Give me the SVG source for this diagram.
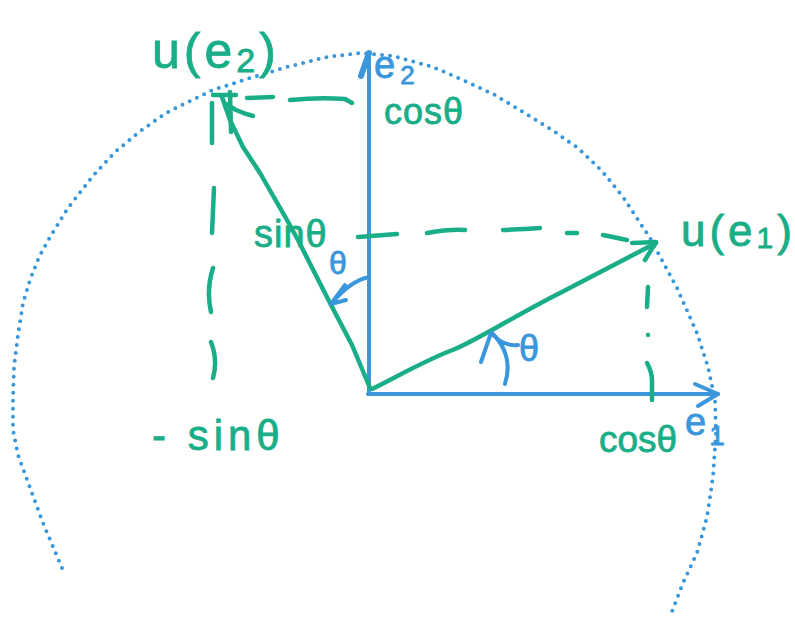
<svg xmlns="http://www.w3.org/2000/svg" width="795" height="619" viewBox="0 0 795 619">
<style>
.g{fill:none;stroke:#19ae87;stroke-width:4.5;stroke-linecap:round;stroke-linejoin:round}
.b{fill:none;stroke:#3a97dc;stroke-width:4;stroke-linecap:round;stroke-linejoin:round}
.dot{fill:none;stroke:#3a97dc;stroke-width:4;stroke-linecap:round;stroke-dasharray:0 8}
.tg{fill:#19ae87;stroke:#19ae87;stroke-width:0.8;font-family:"Liberation Sans",Arial,sans-serif}
.tb{fill:#3a97dc;stroke:#3a97dc;stroke-width:0.8;font-family:"Liberation Sans",Arial,sans-serif}
</style>
<rect width="795" height="619" fill="#ffffff"/>
<g id="unit-circle">
<polyline class="dot" points="62,568 43,523 29,485 18,455 13,430 13,400 14,367 18,335 23,303 30,280 39,257 50,237 68,208 92,177 114,153 139,132 166,113 188,102 213,90 250,78 287,67 327,57 360,53 393,56 433,67 465,81 495,95 523,112 552,130 578,148 602,171 623,197 650,238 677,288 697,333 708,367 715,400 716,433 713,477 707,517 697,553 683,583 671,614"/>
</g>
<g id="connectors">
<g id="axis-e2">
<path class="b" d="M369,394 L369,53"/>
<path class="b" d="M361,76 L369,53" style="stroke-width:6"/>
</g>
<g id="axis-e1">
<path class="b" d="M368,394 L718,394"/>
<path class="b" d="M695,384 L718,394 L698,406"/>
</g>
<g id="vector-ue1">
<path class="g" d="M372,389 C400,375 430,358 455,349 C475,341 520,313 560,293 L656,243"/>
<path class="g" d="M632,243 L656,242 L645,260"/>
</g>
<g id="vector-ue2">
<path class="g" d="M370,388 L352,345 L330,303 L298,240 L287,220 L260,173 L243,147 L230,120 L222,97"/>
<path class="g" d="M213,95 L236,95 M230,92 L231,132 M226,104 L236,110 Q245,114 253,116"/>
</g>
<g id="projections">
<path class="g" d="M247,98 L273,97 M290,100 Q320,97 345,99 L352,103"/>
<path class="g" d="M212,103 L212,143 M214,188 L212,233 M213,268 Q206,290 211,312 M211,342 Q218,360 213,378"/>
<path class="g" d="M358,237 L397,234 M427,233 Q450,229 465,230 M503,230 Q525,229 540,228 M567,233 L577,233 M603,235 L627,240"/>
<path class="g" d="M648,287 L647,307 M648,335 L648,335 M647,363 Q652,372 652,380 L652,400"/>
</g>
<g id="angles">
<path class="b" d="M369,277 Q350,281 331,304 M345,285 L331,304 L346,300"/>
<path class="b" d="M505,384 Q514,355 492,333 M481,362 L491,333 L500,341 Q508,346 518,345"/>
</g>
</g>
<g id="labels">
<text id="label-ue2" class="tg" x="152" y="68" font-size="50" letter-spacing="4">u(e<tspan font-size="34" dy="4">2</tspan><tspan dy="-4">)</tspan></text>
<text id="label-e2" class="tb" x="374" y="78" font-size="38" letter-spacing="5">e<tspan font-size="26" dy="6">2</tspan></text>
<text id="label-cos-top" class="tg" x="384" y="124" font-size="36" letter-spacing="1">cosθ</text>
<text id="label-sin" class="tg" x="254" y="247" font-size="38" letter-spacing="1">sinθ</text>
<text id="label-theta1" class="tb" x="329" y="274" font-size="32">θ</text>
<text id="label-ue1" class="tg" x="681" y="246" font-size="44" letter-spacing="4">u(e<tspan font-size="30" dy="2">1</tspan><tspan dy="-2">)</tspan></text>
<text id="label-theta2" class="tb" x="519" y="361" font-size="36">θ</text>
<text id="label-minus-sin" class="tg" x="152" y="450" font-size="42" letter-spacing="5">- sinθ</text>
<text id="label-cos-bottom" class="tg" x="599" y="452" font-size="37">cosθ</text>
<text id="label-e1" class="tb" x="685" y="435" font-size="38" letter-spacing="3">e<tspan font-size="28" dy="10">1</tspan></text>
</g>
</svg>
